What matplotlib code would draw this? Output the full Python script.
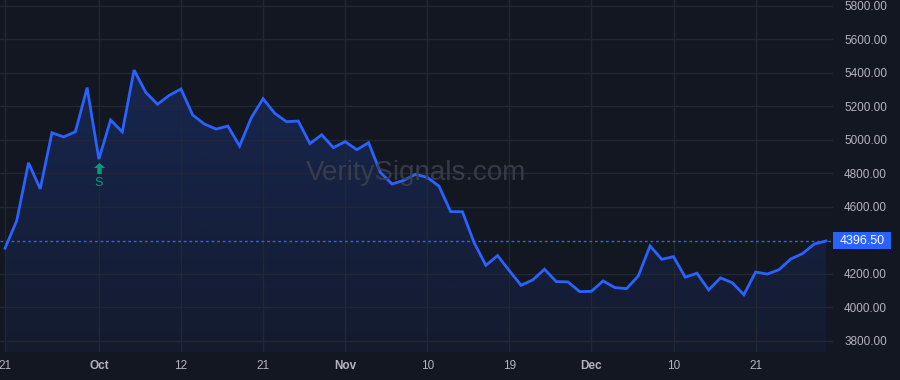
import numpy as np
import matplotlib
matplotlib.use("Agg")
import matplotlib.pyplot as plt
from matplotlib.patches import Rectangle
from matplotlib.path import Path

plt.rcParams['font.family'] = ['Liberation Sans', 'DejaVu Sans']

# precios de cierre (un punto por sesión)
precios = [4353, 4518, 4863, 4707, 5042, 5017, 5048, 5311, 4884, 5118,
           5047, 5416, 5283, 5212, 5265, 5303, 5148, 5094, 5064, 5082,
           4963, 5132, 5245, 5158, 5108, 5112, 4977, 5030, 4953, 4989,
           4941, 4983, 4806, 4736, 4758, 4794, 4776, 4724, 4571, 4571,
           4386, 4251, 4309, 4219, 4132, 4164, 4228, 4154, 4152, 4094,
           4096, 4158, 4118, 4112, 4188, 4367, 4287, 4303, 4180, 4204,
           4104, 4176, 4148, 4076, 4211, 4199, 4225, 4289, 4321, 4378,
           4396.5]
ultimo = 4396.50

# etiquetas del eje x (índice de sesión, texto, negrita si es mes)
pos_ticks = [0, 8, 15, 22, 29, 36, 43, 50, 57, 64]
txt_ticks = ["21", "Oct", "12", "21", "Nov", "10", "19", "Dec", "10", "21"]
meses = ["Oct", "Nov", "Dec"]

y_ticks = [3800, 4000, 4200, 4600, 4800, 5000, 5200, 5400, 5600, 5800]

# señal de compra
senal_idx = 8
senal_txt = "S"

fondo = "#131722"
azul = "#2962FF"
gris = "#b2b5be"
rejilla = "#232733"
verde = "#089981"

fig = plt.figure(figsize=(9, 3.8), dpi=100, facecolor=fondo)
ax = fig.add_axes([0, 1 - 352 / 380, 833 / 900, 352 / 380])
ax.set_facecolor(fondo)

x = np.arange(len(precios))
y = np.array(precios)

ymin, ymax = 3734, 5834
ax.set_xlim(-0.43, 70.6)
ax.set_ylim(ymin, ymax)

# relleno con degradado
poly = ax.fill_between(x, y, ymin, color="none", lw=0)
grad = np.linspace(0.06, 0.21, 256).reshape(-1, 1)
rgba = np.zeros((256, 1, 4))
rgba[..., 0] = 41 / 255
rgba[..., 1] = 98 / 255
rgba[..., 2] = 1.0
rgba[..., 3] = grad
img = ax.imshow(rgba, aspect="auto", origin="lower",
                extent=[x[0], x[-1], ymin, max(precios)], zorder=1)
img.set_clip_path(poly.get_paths()[0], transform=ax.transData)

ax.plot(x, y, color=azul, lw=2, zorder=3, solid_joinstyle="miter")

# línea del último precio
ax.axhline(ultimo, color=azul, lw=1, ls=(0, (2, 2)), zorder=2)

# rejilla
ax.set_xticks(pos_ticks)
ax.set_yticks(y_ticks)
ax.grid(True, color=rejilla, lw=1, zorder=0)
for s in ax.spines.values():
    s.set_visible(False)

ax.yaxis.tick_right()
ax.tick_params(axis="y", length=0, pad=8, labelsize=8.5, labelcolor=gris)
ax.set_yticklabels([f"{v:.2f}" for v in y_ticks])
for lbl in ax.get_yticklabels():
    lbl.set_horizontalalignment("left")
ax.tick_params(axis="x", length=0, pad=6, labelsize=8.5, labelcolor=gris)
ax.set_xticklabels(txt_ticks)
for lbl in ax.get_xticklabels():
    if lbl.get_text() in meses:
        lbl.set_fontweight("bold")

# etiqueta del precio actual
px = 5.965  # unidades de precio por pixel
trans = ax.get_yaxis_transform()
ax.add_patch(Rectangle((1.0, ultimo - 8.5 * px), 58 / 833, 17 * px, transform=trans,
                       fc=azul, ec="none", clip_on=False, zorder=6))
ax.text(1.0 + 29 / 833, ultimo, f"{ultimo:.2f}", transform=trans,
        ha="center", va="center", fontsize=9, color="white", zorder=7, clip_on=False)

# marca de la señal (flecha hacia arriba)
flecha = Path([(-1, 0.1), (0, 1), (1, 0.1), (0.4, 0.1), (0.4, -1),
               (-0.4, -1), (-0.4, 0.1), (-1, 0.1)])
ax.plot([senal_idx], [precios[senal_idx] - 9 * px], marker=flecha, ms=8,
        color=verde, mec="none", ls="none", zorder=5)
ax.text(senal_idx, precios[senal_idx] - 23.5 * px, senal_txt, color=verde,
        ha="center", va="center", fontsize=9, zorder=5)

# marca de agua
ax.text(0.5, 0.508, "VeritySignals.com", transform=ax.transAxes, ha="center",
        va="center", fontsize=20, color="#3c4150", alpha=0.85, zorder=4)

fig.savefig("out.png", dpi=100, facecolor=fondo)
